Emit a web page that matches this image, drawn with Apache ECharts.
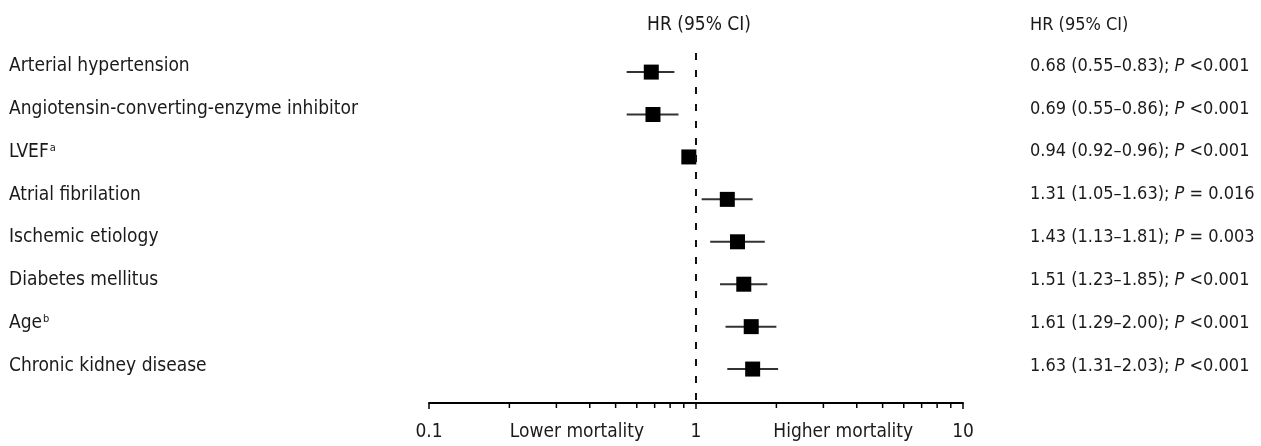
<!DOCTYPE html>
<html>
<head>
<meta charset="utf-8">
<script src="https://cdn.jsdelivr.net/npm/echarts@6/dist/echarts.min.js"></script>
<style>
  html, body { margin: 0; padding: 0; background: #fff; }
  #main { width: 1261px; height: 446px; }
</style>
</head>
<body>
<div id="main"></div>
<script>
// rows of the forest plot, top to bottom
var labels = ['Arterial hypertension', 'Angiotensin-converting-enzyme inhibitor', 'LVEF', 'Atrial fibrilation',
  'Ischemic etiology', 'Diabetes mellitus', 'Age', 'Chronic kidney disease'];
var labelSup = ['', '', 'a', '', '', '', 'b', ''];
var hr = [0.68, 0.69, 0.94, 1.31, 1.43, 1.51, 1.61, 1.63];
var ciLow = [0.55, 0.55, 0.92, 1.05, 1.13, 1.23, 1.29, 1.31];
var ciHigh = [0.83, 0.86, 0.96, 1.63, 1.81, 1.85, 2.00, 2.03];
var pText = ['<0.001', '<0.001', '<0.001', '= 0.016', '= 0.003', '<0.001', '<0.001', '<0.001'];

// x axis bits
var minorTicks = [0.2, 0.3, 0.4, 0.5, 0.6, 0.7, 0.8, 0.9, 2, 3, 4, 5, 6, 7, 8, 9];
var sideNames = ['Lower mortality', 'Higher mortality'];
var sidePos = [0.358, 3.56];

var FONT = "'Liberation Sans Narrow', 'DejaVu Sans Condensed', sans-serif";
var TXT = '#1a1a1a';
var FS = 19;
var FS_R = 18;
var Y_MIN = 0.55, Y_MAX = 8.8;

var myChart = echarts.init(document.getElementById('main'), null, { renderer: 'canvas' });

function fmt(v) { return v.toFixed(2); }

var leftLabels = labels.map(function (l, i) {
  return labelSup[i] ? '{n|' + l + '}{s|' + labelSup[i] + '}' : '{n|' + l + '}';
});
var rightLabels = hr.map(function (h, i) {
  return '{r|' + fmt(h) + ' (' + fmt(ciLow[i]) + '–' + fmt(ciHigh[i]) + '); }{i|P}{r| ' + pText[i] + '}';
});

var ciData = hr.map(function (h, i) { return [ciLow[i], ciHigh[i], i + 1]; });
var hrData = hr.map(function (h, i) { return [h, i + 1]; });
var sideData = sideNames.map(function (n, i) { return { name: n, value: [sidePos[i], Y_MAX] }; });

var richText = {
  n: { fontSize: FS, fontFamily: FONT, color: TXT },
  r: { fontSize: FS_R, fontFamily: FONT, color: TXT },
  i: { fontSize: FS_R, fontFamily: FONT, color: TXT, fontStyle: 'italic' },
  s: { fontSize: 11, fontFamily: FONT, color: TXT, verticalAlign: 'top', padding: [0, 0, 0, 1] }
};

var option = {
  animation: false,
  backgroundColor: '#fff',
  textStyle: { fontFamily: FONT, color: TXT },
  title: [
    { text: 'HR (95% CI)', left: 699, top: 16, textAlign: 'center', padding: 0,
      textStyle: { fontSize: FS, fontWeight: 'normal', fontFamily: FONT, color: TXT } },
    { text: 'HR (95% CI)', left: 1030, top: 16, padding: 0,
      textStyle: { fontSize: FS_R, fontWeight: 'normal', fontFamily: FONT, color: TXT } }
  ],
  grid: [
    { left: 429, right: 298, top: 53, bottom: 43, outerBoundsMode: 'none' },
    { left: 429, right: 298, top: 44.6, height: 342.9, outerBoundsMode: 'none' }
  ],
  xAxis: [
    {
      type: 'log', logBase: 10, min: 0.1, max: 10, gridIndex: 0,
      axisLine: { lineStyle: { color: '#000', width: 2 } },
      axisTick: { show: true, length: 6, lineStyle: { color: '#000', width: 1.5 } },
      splitLine: { show: false },
      axisLabel: {
        margin: 20, fontSize: FS, fontFamily: FONT, color: TXT,
        formatter: function (v) { return v >= 1 ? String(Math.round(v)) : String(+v.toFixed(1)); }
      }
    },
    { type: 'value', gridIndex: 1, show: false }
  ],
  yAxis: [
    { type: 'value', gridIndex: 0, min: Y_MIN, max: Y_MAX, inverse: true, show: false },
    {
      type: 'category', gridIndex: 1, position: 'left', inverse: true, data: leftLabels,
      axisLine: { show: false }, axisTick: { show: false }, splitLine: { show: false },
      axisLabel: { margin: 420, align: 'left', rich: richText, formatter: function (v) { return v; } }
    },
    {
      type: 'category', gridIndex: 1, position: 'right', inverse: true, data: rightLabels,
      axisLine: { show: false }, axisTick: { show: false }, splitLine: { show: false },
      axisLabel: { margin: 67, align: 'left', rich: richText, formatter: function (v) { return v; } }
    }
  ],
  series: [
    {
      name: 'CI', type: 'custom', xAxisIndex: 0, yAxisIndex: 0, silent: true,
      data: ciData, encode: { x: [0, 1], y: 2 },
      renderItem: function (params, api) {
        var a = api.coord([api.value(0), api.value(2)]);
        var b = api.coord([api.value(1), api.value(2)]);
        return { type: 'line', shape: { x1: a[0], y1: a[1], x2: b[0], y2: b[1] },
          style: { stroke: '#333', lineWidth: 2 } };
      },
      z: 2
    },
    {
      name: 'HR', type: 'scatter', xAxisIndex: 0, yAxisIndex: 0, silent: true,
      data: hrData, symbol: 'rect', symbolSize: 15,
      itemStyle: { color: '#000', opacity: 1 },
      markLine: {
        silent: true, symbol: 'none', label: { show: false },
        lineStyle: { color: '#111', width: 2, type: [7, 10], opacity: 1 },
        data: [{ xAxis: 1 }]
      },
      z: 3
    },
    {
      name: 'minor', type: 'custom', xAxisIndex: 0, yAxisIndex: 0, silent: true,
      data: minorTicks.map(function (v) { return [v, Y_MAX]; }), encode: { x: 0, y: 1 },
      renderItem: function (params, api) {
        var p = api.coord([api.value(0), api.value(1)]);
        return { type: 'line', shape: { x1: p[0], y1: p[1], x2: p[0], y2: p[1] + 5 },
          style: { stroke: '#000', lineWidth: 1.5 } };
      }
    },
    {
      name: 'side', type: 'scatter', xAxisIndex: 0, yAxisIndex: 0, silent: true, clip: false,
      data: sideData, symbolSize: 0,
      itemStyle: { opacity: 1 },
      label: { show: true, position: 'inside', offset: [0, 29], fontSize: FS, fontFamily: FONT, color: TXT,
        formatter: function (p) { return p.name; } }
    }
  ]
};

myChart.setOption(option);

window.addEventListener('resize', function () {
  myChart.resize();
});
</script>
</body>
</html>
